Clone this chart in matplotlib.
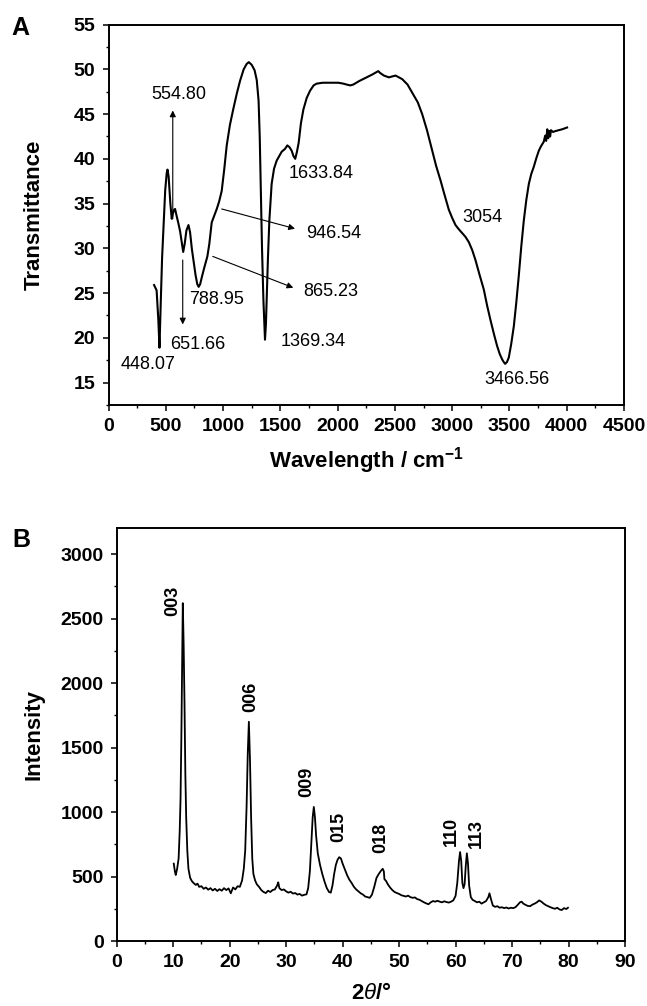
import matplotlib
matplotlib.use('Agg')
import matplotlib.pyplot as plt
from matplotlib.ticker import MultipleLocator

plt.rcParams['font.family'] = ['Liberation Sans', 'DejaVu Sans']
plt.rcParams['mathtext.fontset'] = 'custom'
plt.rcParams['mathtext.rm'] = 'Liberation Sans'
plt.rcParams['mathtext.it'] = 'Liberation Sans:italic'
plt.rcParams['mathtext.bf'] = 'Liberation Sans:bold'

# ---- panel A: FTIR spectrum ----
ir_wn = [398, 420, 435, 445, 455, 468, 480, 495, 508, 515,
         525, 540, 552, 560, 572, 581, 595, 610, 625, 640,
         652, 665, 680, 698, 712, 728, 741, 760, 775, 787,
         800, 815, 835, 863, 880, 901, 925, 945, 965, 988,
         1010, 1032, 1060, 1090, 1120, 1148, 1180, 1206, 1225, 1250,
         1275, 1294, 1310, 1320, 1330, 1340, 1352, 1366, 1374, 1381,
         1392, 1404, 1424, 1445, 1468, 1512, 1540, 1561, 1580, 1599,
         1615, 1630, 1645, 1660, 1680, 1701, 1730, 1759, 1790, 1817,
         1870, 1933, 2006, 2050, 2078, 2110, 2137, 2190, 2253, 2300,
         2340, 2355, 2370, 2404, 2448, 2475, 2506, 2535, 2564, 2610,
         2651, 2700, 2738, 2780, 2826, 2860, 2898, 2935, 2971, 3000,
         3029, 3060, 3087, 3115, 3145, 3175, 3203, 3240, 3276, 3305,
         3334, 3365, 3392, 3415, 3436, 3450, 3462, 3478, 3494, 3515,
         3538, 3560, 3581, 3603, 3625, 3647, 3669, 3690, 3712, 3735,
         3756, 3775, 3799, 3812, 3820, 3830, 3838, 3848, 3855, 3862,
         3880, 3901, 3930, 3960, 4003]
ir_t = [25.9, 25.3, 22.0, 18.9, 23.5, 29.0, 32.4, 36.5, 38.4, 38.8,
        38.0, 35.0, 33.3, 33.8, 34.3, 34.4, 33.6, 32.8, 31.9, 30.6,
        29.6, 30.5, 32.0, 32.6, 31.8, 29.9, 28.7, 27.0, 26.0, 25.7,
        26.0, 26.8, 27.8, 29.1, 30.5, 32.9, 33.7, 34.4, 35.2, 36.4,
        38.8, 41.5, 43.8, 45.6, 47.3, 48.7, 50.0, 50.6, 50.8, 50.5,
        49.9, 48.8, 46.5, 42.5, 36.5, 30.0, 24.3, 19.8, 21.5, 24.3,
        29.0, 33.1, 37.2, 38.9, 39.8, 40.8, 41.1, 41.5, 41.3, 40.9,
        40.3, 40.0, 40.8, 41.8, 44.0, 45.5, 46.8, 47.6, 48.2, 48.4,
        48.5, 48.5, 48.5, 48.4, 48.3, 48.2, 48.3, 48.7, 49.1, 49.4,
        49.7, 49.8, 49.6, 49.3, 49.1, 49.2, 49.3, 49.1, 48.9, 48.3,
        47.4, 46.3, 45.0, 43.2, 40.9, 39.2, 37.6, 35.9, 34.3, 33.4,
        32.6, 32.1, 31.7, 31.3, 30.7, 29.8, 28.7, 27.0, 25.4, 23.6,
        22.0, 20.4, 19.1, 18.2, 17.6, 17.3, 17.1, 17.3, 17.8, 19.3,
        21.3, 24.0, 26.9, 30.2, 33.1, 35.4, 37.2, 38.3, 39.1, 40.1,
        40.9, 41.4, 41.9, 42.6, 42.0, 43.3, 42.3, 43.1, 42.5, 43.2,
        43.0, 43.1, 43.2, 43.3, 43.5]

ir_labels = ['554.80', '651.66', '448.07', '788.95', '946.54', '865.23',
             '1369.34', '1633.84', '3054', '3466.56']
ir_label_x = [616, 776, 349, 945, 1968, 1939, 1788, 1860, 3267, 3567]
ir_label_y = [47.2, 19.3, 17.0, 24.3, 31.7, 25.2, 19.6, 38.4, 33.5, 15.4]

# arrows: tail -> head
ir_arrow_tail = [(561, 33.3), (648, 28.7), (988, 34.4), (910, 29.1)]
ir_arrow_head = [(561, 45.4), (648, 21.5), (1628, 32.2), (1613, 25.6)]

# ---- panel B: XRD pattern ----
two_theta = [10.1, 10.3, 10.45, 10.7, 10.96, 11.15, 11.3, 11.45, 11.6, 11.7,
             11.85, 12.0, 12.15, 12.3, 12.5, 12.7, 13.0, 13.3, 13.6, 14.0,
             14.3, 14.6, 15.0, 15.4, 15.8, 16.2, 16.6, 17.0, 17.4, 17.8,
             18.2, 18.6, 19.0, 19.4, 19.8, 20.2, 20.6, 21.0, 21.4, 21.8,
             22.2, 22.5, 22.75, 23.0, 23.2, 23.4, 23.6, 23.8, 24.0, 24.2,
             24.5, 24.8, 25.2, 25.6, 26.0, 26.4, 26.8, 27.2, 27.6, 28.0,
             28.4, 28.6, 28.8, 29.2, 29.6, 30.0, 30.4, 30.8, 31.2, 31.6,
             32.0, 32.4, 32.8, 33.2, 33.6, 33.9, 34.2, 34.5, 34.7, 34.9,
             35.1, 35.3, 35.6, 36.0, 36.4, 36.8, 37.2, 37.6, 37.9, 38.2,
             38.5, 38.8, 39.1, 39.4, 39.7, 40.0, 40.4, 40.8, 41.2, 41.6,
             42.0, 42.4, 42.8, 43.2, 43.6, 44.0, 44.4, 44.8, 45.2, 45.6,
             46.0, 46.4, 46.8, 47.1, 47.3, 47.4, 47.7, 48.0, 48.4, 48.8,
             49.2, 49.6, 50.0, 50.4, 50.8, 51.2, 51.6, 52.0, 52.4, 52.8,
             53.2, 53.6, 54.0, 54.4, 54.8, 55.2, 55.6, 56.0, 56.4, 56.8,
             57.2, 57.6, 58.0, 58.4, 58.8, 59.2, 59.6, 60.0, 60.3, 60.6,
             60.8, 61.0, 61.2, 61.4, 61.6, 61.8, 62.0, 62.2, 62.4, 62.7,
             63.0, 63.4, 63.8, 64.2, 64.6, 65.0, 65.4, 65.8, 66.0, 66.3,
             66.6, 67.0, 67.4, 67.8, 68.2, 68.6, 69.0, 69.4, 69.8, 70.2,
             70.6, 71.0, 71.4, 71.7, 72.0, 72.4, 72.8, 73.2, 73.6, 74.0,
             74.4, 74.8, 75.2, 75.6, 76.0, 76.4, 76.8, 77.2, 77.6, 78.0,
             78.4, 78.8, 79.2, 79.6, 79.9]
intensity = [600, 540, 512, 560, 640, 850, 1100, 1600, 2200, 2620,
             2300, 1850, 1300, 960, 700, 560, 490, 465, 450, 435,
             445, 420, 425, 405, 415, 398, 410, 392, 405, 388,
             402, 390, 410, 395, 408, 370, 415, 400, 425, 420,
             470, 560, 700, 1050, 1450, 1700, 1400, 950, 640, 520,
             470, 440, 420, 395, 380, 372, 390, 380, 395, 400,
             430, 455, 410, 395, 400, 385, 375, 382, 368, 372,
             360, 365, 352, 358, 362, 410, 540, 800, 960, 1040,
             960, 820, 680, 590, 520, 460, 410, 380, 375, 430,
             520, 590, 630, 650, 640, 600, 555, 510, 475, 450,
             420, 400, 385, 370, 360, 345, 340, 335, 360, 420,
             490, 520, 545, 560, 540, 480, 465, 440, 415, 395,
             380, 372, 365, 355, 350, 345, 352, 340, 335, 338,
             325, 320, 310, 300, 292, 285, 300, 310, 305, 312,
             305, 300, 308, 302, 298, 305, 315, 350, 450, 620,
             690, 620, 450, 410, 440, 580, 680, 600, 430, 340,
             320, 310, 300, 305, 290, 300, 310, 340, 370, 320,
             275, 265, 270, 258, 262, 255, 260, 252, 258, 255,
             262, 280, 300, 305, 290, 280, 272, 270, 282, 290,
             300, 315, 305, 290, 278, 270, 262, 255, 250, 258,
             245, 240, 255, 248, 258]

hkl_labels = ['003', '006', '009', '015', '018', '110', '113']
hkl_x = [10.0, 23.7, 33.6, 39.3, 46.8, 59.3, 63.7]
hkl_y = [2640, 1896, 1236, 887, 797, 848, 835]


def style_axes(ax):
    for sp in ax.spines.values():
        sp.set_linewidth(1.4)
    ax.tick_params(which='major', direction='out', length=4.5, width=1.1,
                   labelsize=14, pad=5, top=False, right=False)
    ax.tick_params(which='minor', direction='out', length=2.5, width=1.0,
                   top=False, right=False)
    for lab in ax.get_xticklabels() + ax.get_yticklabels():
        lab.set_fontweight('bold')


fig = plt.figure(figsize=(6.47, 10.06), dpi=100)

# panel A
axA = fig.add_axes([0.1677, 0.5974, 0.7968, 0.3782])
axA.plot(ir_wn, ir_t, color='black', lw=1.5)
axA.set_xlim(0, 4500)
axA.set_ylim(12.5, 55)
axA.xaxis.set_major_locator(MultipleLocator(500))
axA.xaxis.set_minor_locator(MultipleLocator(250))
axA.yaxis.set_major_locator(MultipleLocator(5))
axA.yaxis.set_minor_locator(MultipleLocator(2.5))
style_axes(axA)
axA.set_xlabel(r'Wavelength / cm$^{\mathbf{-1}}$', fontsize=16, fontweight='bold')
axA.set_ylabel('Transmittance', fontsize=16, fontweight='bold')
axA.xaxis.set_label_coords(0.5, -0.106)
axA.yaxis.set_label_coords(-0.123, 0.5)

for lab, x, y in zip(ir_labels, ir_label_x, ir_label_y):
    axA.text(x, y, lab, fontsize=13, ha='center', va='center')
for tail, head in zip(ir_arrow_tail, ir_arrow_head):
    axA.annotate('', xy=head, xytext=tail,
                 arrowprops=dict(arrowstyle='-|>', lw=0.8, color='black',
                                 mutation_scale=9, shrinkA=0, shrinkB=0))

fig.text(20 / 647, 1 - 28 / 1006, 'A', fontsize=18, fontweight='bold',
         ha='center', va='center')

# panel B
axB = fig.add_axes([0.1804, 0.0646, 0.7856, 0.4102])
axB.plot(two_theta, intensity, color='black', lw=1.3)
axB.set_xlim(0, 90)
axB.set_ylim(0, 3200)
axB.xaxis.set_major_locator(MultipleLocator(10))
axB.xaxis.set_minor_locator(MultipleLocator(5))
axB.yaxis.set_major_locator(MultipleLocator(500))
axB.yaxis.set_minor_locator(MultipleLocator(250))
style_axes(axB)
axB.set_xlabel(r'2$\mathit{\theta}$/°', fontsize=16, fontweight='bold')
axB.set_ylabel('Intensity', fontsize=16, fontweight='bold')
axB.xaxis.set_label_coords(0.5, -0.102)
axB.yaxis.set_label_coords(-0.143, 0.5)

for lab, x, y in zip(hkl_labels, hkl_x, hkl_y):
    axB.text(x, y, lab, fontsize=13, fontweight='bold', rotation=90,
             ha='center', va='center')

fig.text(21 / 647, 1 - 540 / 1006, 'B', fontsize=18, fontweight='bold',
         ha='center', va='center')

fig.savefig('out.png', dpi=100)
